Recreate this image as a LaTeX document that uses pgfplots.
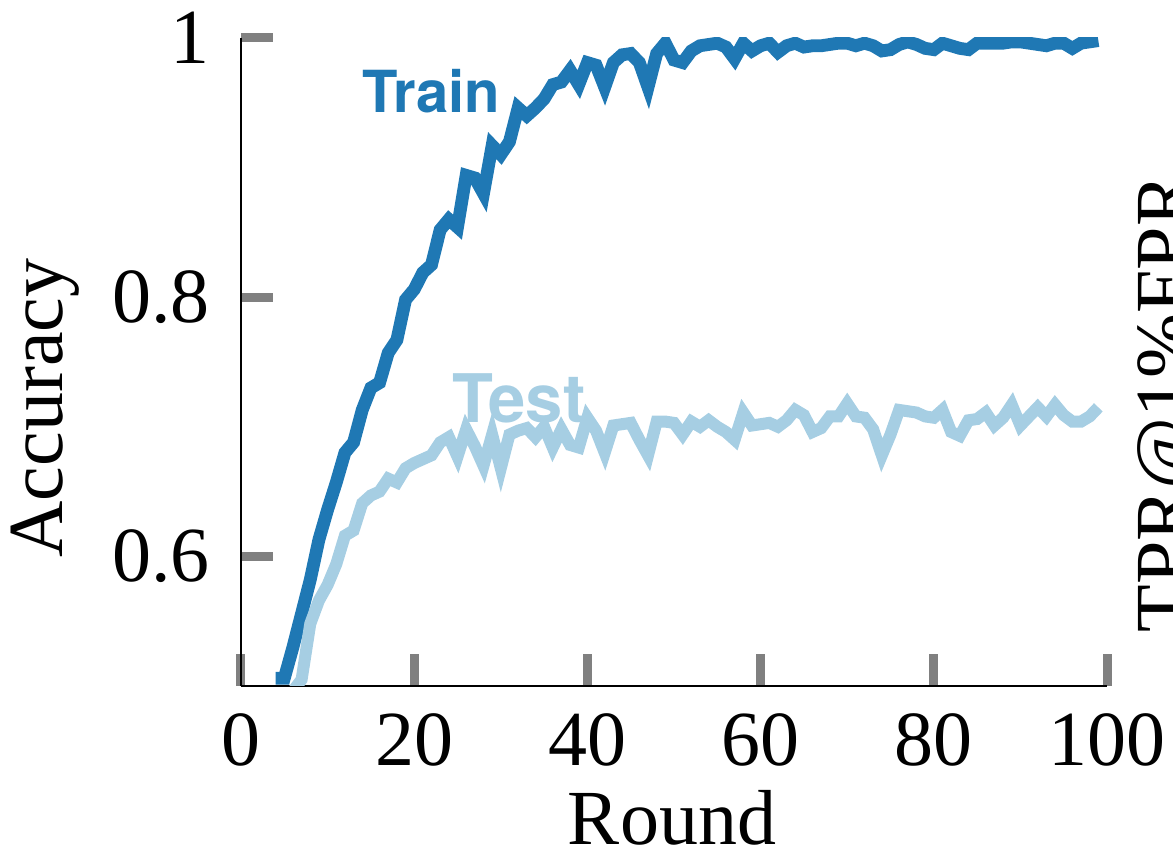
\documentclass[border=0pt]{standalone}
\usepackage{fontspec}
\setmainfont{Liberation Serif}
\newfontfamily\heros{TeX Gyre Heros}
\usepackage{pgfplots}
\usepackage{pgfplotstable}
\pgfplotsset{compat=1.18}
\definecolor{trainblue}{HTML}{1F78B4}
\definecolor{testblue}{HTML}{A6CEE3}
\definecolor{tickgray}{HTML}{808080}

\pgfplotstableread{
r acc
4 0.506
5 0.506
6 0.530
7 0.556
8 0.582
9 0.613
10 0.636
11 0.657
12 0.680
13 0.688
14 0.713
15 0.730
16 0.734
17 0.757
18 0.767
19 0.798
20 0.806
21 0.819
22 0.825
23 0.852
24 0.860
25 0.854
26 0.894
27 0.892
28 0.880
29 0.917
30 0.910
31 0.920
32 0.946
33 0.940
34 0.946
35 0.953
36 0.964
37 0.966
38 0.975
39 0.964
40 0.981
41 0.979
42 0.962
43 0.981
44 0.987
45 0.988
46 0.981
47 0.962
48 0.988
49 0.996
50 0.983
51 0.981
52 0.990
53 0.994
54 0.995
55 0.996
56 0.993
57 0.984
58 0.996
59 0.990
60 0.994
61 0.996
62 0.989
63 0.994
64 0.996
65 0.993
66 0.994
67 0.994
68 0.995
69 0.996
70 0.996
71 0.994
72 0.996
73 0.994
74 0.990
75 0.991
76 0.995
77 0.997
78 0.995
79 0.992
80 0.991
81 0.996
82 0.994
83 0.992
84 0.991
85 0.996
86 0.996
87 0.996
88 0.996
89 0.997
90 0.997
91 0.996
92 0.995
93 0.994
94 0.996
95 0.996
96 0.992
97 0.996
98 0.997
99 0.998
}\train

\pgfplotstableread{
r acc
4 0.494
5 0.494
6 0.496
7 0.505
8 0.548
9 0.566
10 0.578
11 0.594
12 0.616
13 0.620
14 0.641
15 0.647
16 0.650
17 0.660
18 0.657
19 0.668
20 0.672
21 0.675
22 0.678
23 0.688
24 0.692
25 0.677
26 0.698
27 0.685
28 0.670
29 0.694
30 0.668
31 0.694
32 0.697
33 0.699
34 0.692
35 0.700
36 0.684
37 0.698
38 0.686
39 0.684
40 0.707
41 0.697
42 0.680
43 0.701
44 0.702
45 0.703
46 0.690
47 0.678
48 0.704
49 0.704
50 0.703
51 0.694
52 0.704
53 0.700
54 0.705
55 0.700
56 0.696
57 0.690
58 0.711
59 0.701
60 0.702
61 0.703
62 0.700
63 0.705
64 0.713
65 0.709
66 0.696
67 0.699
68 0.708
69 0.708
70 0.718
71 0.708
72 0.707
73 0.698
74 0.678
75 0.694
76 0.713
77 0.712
78 0.711
79 0.708
80 0.707
81 0.713
82 0.696
83 0.693
84 0.705
85 0.706
86 0.711
87 0.701
88 0.707
89 0.717
90 0.701
91 0.708
92 0.715
93 0.708
94 0.717
95 0.709
96 0.704
97 0.704
98 0.708
99 0.715
}\test

\begin{document}
\begin{tikzpicture}
\begin{axis}[
  at={(0,0)}, anchor=south west,
  scale only axis, width=433pt, height=324pt,
  xmin=0, xmax=100, ymin=0.5, ymax=1,
  axis x line*=bottom, axis y line*=left,
  axis line style={line width=1.3pt, black},
  xtick={0,20,40,60,80,100},
  ytick={0.6,0.8,1}, yticklabels={0.6,0.8,1},
  xticklabels={0,20,40,60,80,100},
  tick align=inside, major tick length=16pt,
  tick style={color=tickgray, line width=4.5pt},
  ticklabel style={font=\fontsize{39}{39}\selectfont},
  xticklabel style={anchor=base, inner sep=0pt, yshift=-40pt},
  yticklabel style={anchor=east, inner sep=0pt, xshift=-15.5pt},
  /pgf/number format/assume math mode=true,
  clip=true,
]
\addplot[trainblue, line width=6.4pt, line join=miter, line cap=butt] table[x=r, y=acc] {\train};
\addplot[testblue, line width=6.0pt, line join=miter, line cap=butt] table[x=r, y=acc] {\test};
\end{axis}
\node[rotate=90, anchor=base, inner sep=0pt, font=\fontsize{39}{39}\selectfont] at (-89pt,139pt) {Accuracy};
\node[anchor=base, inner sep=0pt, font=\fontsize{39}{39}\selectfont] at (215.5pt,-79.5pt) {Round};
\node[rotate=90, anchor=base west, inner sep=0pt, font=\fontsize{39}{39}\selectfont] at (474pt,26.5pt) {TPR@1\%FPR};
\node[anchor=base west, inner sep=0pt, text=trainblue, font=\heros\bfseries\fontsize{29}{29}\selectfont] at (60.5pt,286.5pt) {Train};
\node[anchor=base west, inner sep=0pt, text=testblue, font=\heros\bfseries\fontsize{33.5}{33.5}\selectfont] at (105.5pt,131.5pt) {Test};
\pgfresetboundingbox
\useasboundingbox (-120.5pt,-81.5pt) rectangle (466pt,343pt);
\end{tikzpicture}
\end{document}
